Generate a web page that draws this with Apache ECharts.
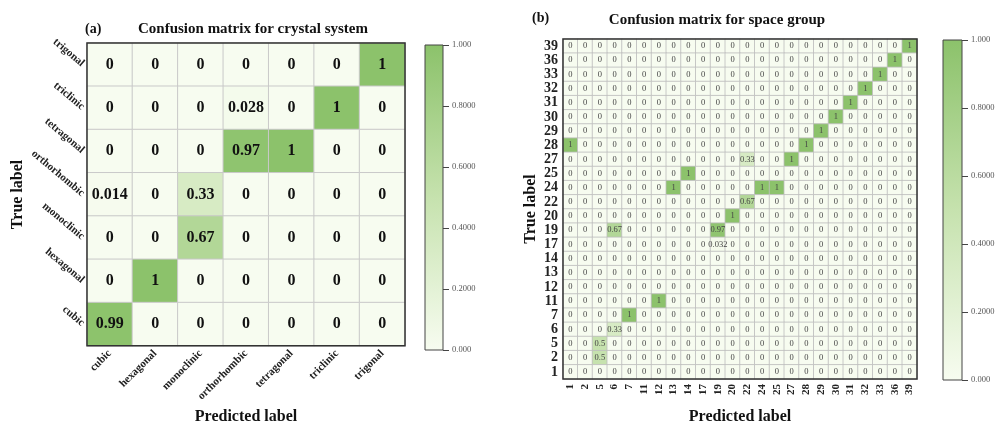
<!DOCTYPE html>
<html><head><meta charset="utf-8">
<script src="https://cdn.jsdelivr.net/npm/echarts@6/dist/echarts.min.js"></script>
<style>html,body{margin:0;padding:0;background:#fff}#c{width:1008px;height:430px}</style>
</head><body><div id="c"></div>
<script>
// ---- data: crystal system (rows top-to-bottom = true label) ----
const csTrue = ['trigonal','triclinic','tetragonal','orthorhombic','monoclinic','hexagonal','cubic'];
const csPred = ['cubic','hexagonal','monoclinic','orthorhombic','tetragonal','triclinic','trigonal'];
const csValues = [
  [0,0,0,0,0,0,1],
  [0,0,0,0.028,0,1,0],
  [0,0,0,0.97,1,0,0],
  [0.014,0,0.33,0,0,0,0],
  [0,0,0.67,0,0,0,0],
  [0,1,0,0,0,0,0],
  [0.99,0,0,0,0,0,0]
];
// ---- data: space group ----
const sgTrue = ['39','36','33','32','31','30','29','28','27','25','24','22','20','19','17','14','13','12','11','7','6','5','2','1'];
const sgPred = ['1','2','5','6','7','11','12','13','14','17','19','20','22','24','25','27','28','29','30','31','32','33','36','39'];
// non-zero cells: [true label, predicted label, value]; every other cell is 0
const sgNonZero = [
  ['39','39',1],['36','36',1],['33','33',1],['32','32',1],['31','31',1],['30','30',1],['29','29',1],
  ['28','1',1],['28','28',1],
  ['27','22',0.33],['27','27',1],
  ['25','14',1],
  ['24','13',1],['24','24',1],['24','25',1],
  ['22','22',0.67],
  ['20','20',1],
  ['19','6',0.67],['19','19',0.97],
  ['17','19',0.032],
  ['11','12',1],
  ['7','7',1],
  ['6','6',0.33],
  ['5','5',0.5],
  ['2','5',0.5]
];
const cbTicks = ['0.000','0.2000','0.4000','0.6000','0.8000','1.000'];

// ---- build ----
const csData = [];
csValues.forEach((row, r) => row.forEach((v, c) => csData.push([c, r, v])));
const sgData = [];
sgTrue.forEach((t, r) => sgPred.forEach((p, c) => {
  const hit = sgNonZero.find(e => e[0] === t && e[1] === p);
  sgData.push([c, r, hit ? hit[2] : 0]);
}));

const SERIF = '"Liberation Serif","DejaVu Serif",serif';
const COLORS = ['#f7fcf0', '#c6e2ae', '#8cc26b'];
const grad = {type:'linear', x:0, y:0, x2:0, y2:1, colorStops:[
  {offset:0, color:COLORS[2]}, {offset:0.5, color:COLORS[1]}, {offset:1, color:COLORS[0]}]};

const chart = echarts.init(document.getElementById('c'), null, {renderer:'canvas'});
const cbLabel = v => cbTicks[Math.round(v / 0.2)];

chart.setOption({
  backgroundColor: '#fff',
  animation: false,
  title: [
    {text:'Confusion matrix for crystal system', left:248, top:17, textAlign:'center',
     textStyle:{fontFamily:SERIF, fontWeight:'bold', fontSize:15, color:'#111'}},
    {text:'(a)', left:80, top:17, textStyle:{fontFamily:SERIF, fontWeight:'bold', fontSize:14, color:'#111'}},
    {text:'Confusion matrix for space group', left:712, top:8, textAlign:'center',
     textStyle:{fontFamily:SERIF, fontWeight:'bold', fontSize:15, color:'#111'}},
    {text:'(b)', left:527, top:6, textStyle:{fontFamily:SERIF, fontWeight:'bold', fontSize:14, color:'#111'}}
  ],
  grid: [
    {left:87, top:43, width:318, height:307, show:true, z:5, borderColor:'#333', borderWidth:1.5, backgroundColor:'transparent'},
    {left:563, top:39, width:354, height:341, show:true, z:5, borderColor:'#333', borderWidth:1.5, backgroundColor:'transparent'},
    {left:425, top:45, width:18, height:305, show:true, z:5, borderColor:'#444', borderWidth:1, backgroundColor:'transparent'},
    {left:943, top:40, width:19, height:340, show:true, z:5, borderColor:'#444', borderWidth:1, backgroundColor:'transparent'}
  ],
  xAxis: [
    {type:'category', gridIndex:0, data:csPred, name:'Predicted label', nameLocation:'middle', nameGap:48,
     nameTextStyle:{fontFamily:SERIF, fontWeight:'bold', fontSize:16, color:'#111'},
     axisLine:{show:false}, axisTick:{show:false}, splitArea:{show:false},
     axisLabel:{rotate:45, fontFamily:SERIF, fontWeight:'bold', fontSize:11, color:'#222', margin:6}},
    {type:'category', gridIndex:1, data:sgPred, name:'Predicted label', nameLocation:'middle', nameGap:30,
     nameTextStyle:{fontFamily:SERIF, fontWeight:'bold', fontSize:16, color:'#111'},
     axisLine:{show:false}, axisTick:{show:false},
     axisLabel:{rotate:90, fontFamily:SERIF, fontWeight:'bold', fontSize:11, color:'#222', margin:5, interval:0}},
    {type:'category', gridIndex:2, data:[''], show:false},
    {type:'category', gridIndex:3, data:[''], show:false}
  ],
  yAxis: [
    {type:'category', gridIndex:0, data:csTrue, inverse:true, name:'True label', nameLocation:'middle', nameGap:55,
     nameTextStyle:{fontFamily:SERIF, fontWeight:'bold', fontSize:16, color:'#111'},
     axisLine:{show:false}, axisTick:{show:false},
     axisLabel:{rotate:-40, fontFamily:SERIF, fontWeight:'bold', fontSize:11, color:'#222', margin:4}},
    {type:'category', gridIndex:1, data:sgTrue, inverse:true, name:'True label', nameLocation:'middle', nameGap:24,
     nameTextStyle:{fontFamily:SERIF, fontWeight:'bold', fontSize:16, color:'#111'},
     axisLine:{show:false}, axisTick:{show:false},
     axisLabel:{fontFamily:SERIF, fontWeight:'bold', fontSize:14, color:'#222', margin:5, interval:0}},
    {type:'value', gridIndex:2, min:0, max:1, interval:0.2, position:'right',
     axisLine:{show:false}, splitLine:{show:false},
     axisTick:{show:true, inside:false, length:6, lineStyle:{color:'#444'}},
     axisLabel:{formatter:cbLabel, fontFamily:SERIF, fontSize:8.5, color:'#555', margin:9}},
    {type:'value', gridIndex:3, min:0, max:1, interval:0.2, position:'right',
     axisLine:{show:false}, splitLine:{show:false},
     axisTick:{show:true, inside:false, length:6, lineStyle:{color:'#444'}},
     axisLabel:{formatter:cbLabel, fontFamily:SERIF, fontSize:8.5, color:'#555', margin:9}}
  ],
  visualMap: [
    {type:'continuous', min:0, max:1, seriesIndex:[0,1], show:false, inRange:{color:COLORS}}
  ],
  series: [
    {type:'heatmap', xAxisIndex:0, yAxisIndex:0, data:csData,
     itemStyle:{borderColor:'#c9c9c9', borderWidth:1},
     label:{show:true, fontFamily:SERIF, fontWeight:'bold', fontSize:16, color:'#111',
            formatter:p => String(p.value[2])}},
    {type:'heatmap', xAxisIndex:1, yAxisIndex:1, data:sgData,
     itemStyle:{borderColor:'#bdbdbd', borderWidth:0.8},
     label:{show:true, fontFamily:SERIF, fontSize:8.5, color:'#444',
            formatter:p => String(p.value[2])}},
    {type:'bar', xAxisIndex:2, yAxisIndex:2, data:[1], barWidth:'100%', itemStyle:{color:grad}},
    {type:'bar', xAxisIndex:3, yAxisIndex:3, data:[1], barWidth:'100%', itemStyle:{color:grad}}
  ]
});
</script></body></html>
